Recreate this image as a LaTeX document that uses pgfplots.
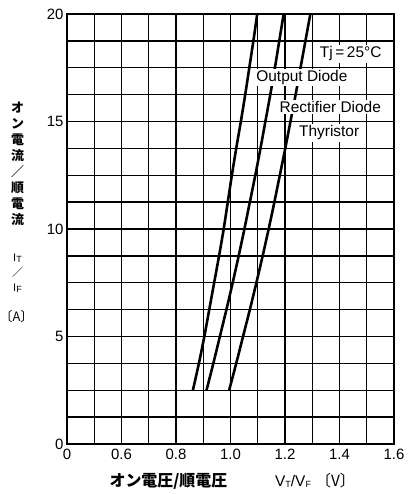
\documentclass[border=0pt]{standalone}
\usepackage{fontspec}
\setmainfont{Liberation Sans}
\newfontfamily\cjk{Noto Sans CJK JP}
\usepackage{pgfplots}
\pgfplotsset{compat=1.18}

\newcommand{\sub}[1]{\raisebox{-1bp}{\fontsize{9}{9}\selectfont #1}}

\begin{document}
\begin{tikzpicture}
\useasboundingbox (-67bp,-50bp) rectangle (344bp,444bp);

\begin{axis}[%
at={(0,0)}, anchor=south west,
scale only axis,
width=327bp,
height=430bp,
xmin=0.4, xmax=1.6,
ymin=0, ymax=20,
xtick={0.4,0.6,0.8,1.0,1.2,1.4,1.6},
xticklabels={0,0.6,0.8,1.0,1.2,1.4,1.6},
minor xtick={0.5,0.7,0.9,1.1,1.3,1.5},
ytick={0,5,10,15,20},
minor ytick={1.25,2.5,3.75,6.25,7.5,8.75,11.25,12.5,13.75,16.25,17.5,18.75},
grid=both,
major grid style={black, line width=1.3pt},
minor grid style={black, line width=1.3pt},
major tick length=0pt, minor tick length=0pt,
axis line style={black, line width=1.8pt},
tick label style={font=\fontsize{15}{18}\selectfont},
/pgf/number format/assume math mode=true,
xticklabel style={yshift=-2bp},
clip=true,
]

% Output Diode
\addplot[black, line width=2.6pt, smooth] coordinates {
(0.862,2.5) (0.884,3.75) (0.904,5) (0.922,6.25) (0.940,7.5) (0.958,8.75)
(0.975,10) (0.990,11.25) (1.005,12.5) (1.021,13.75) (1.038,15) (1.054,16.25)
(1.069,17.5) (1.084,18.75) (1.098,20)
};

% Rectifier Diode
\addplot[black, line width=2.6pt, smooth] coordinates {
(0.912,2.5) (0.937,3.75) (0.961,5) (0.985,6.25) (1.008,7.5) (1.030,8.75)
(1.051,10) (1.071,11.25) (1.091,12.5) (1.110,13.75) (1.128,15) (1.146,16.25)
(1.163,17.5) (1.179,18.75) (1.195,20)
};

% Thyristor
\addplot[black, line width=2.6pt, smooth] coordinates {
(0.995,2.5) (1.021,3.75) (1.046,5) (1.071,6.25) (1.095,7.5) (1.118,8.75)
(1.140,10) (1.161,11.25) (1.181,12.5) (1.201,13.75) (1.220,15) (1.239,16.25)
(1.257,17.5) (1.275,18.75) (1.293,20)
};

\node[fill=white, inner sep=1.5bp, font=\fontsize{15.5}{18}\selectfont] at (axis cs:1.441,18.14) {Tj\,=\,25°C};
\node[fill=white, inner sep=1.5bp, font=\fontsize{15.5}{18}\selectfont] at (axis cs:1.262,17.05) {Output Diode};
\node[fill=white, inner sep=1.5bp, font=\fontsize{15.5}{18}\selectfont] at (axis cs:1.366,15.67) {Rectifier Diode};
\node[fill=white, inner sep=1.5bp, font=\fontsize{15.5}{18}\selectfont] at (axis cs:1.362,14.47) {Thyristor};
\end{axis}

% x label
\node[font=\fontsize{15.5}{18}\selectfont, inner sep=0] at (165.5bp,-37.5bp)
  {{\cjk\bfseries\fontsize{16}{18}\selectfont オン電圧/順電圧}\hspace{3.1em}V\sub{T}/V\sub{F}\hspace{0.3em}{\cjk 〔V〕}};

% y label (vertical)
\node[font=\cjk\bfseries\fontsize{13}{16}\selectfont, align=center, inner sep=0] at (-49.5bp,280bp)
  {オ\\ン\\電\\流\\／\\順\\電\\流};
\node[font=\fontsize{11}{15}\selectfont, align=center, inner sep=0] at (-49.5bp,171bp)
  {I\sub{T}\\{\cjk ／}\\I\sub{F}};
\node[font=\cjk\fontsize{13}{16}\selectfont, inner sep=0] at (-50.5bp,127bp) {〔A〕};
\end{tikzpicture}
\end{document}
